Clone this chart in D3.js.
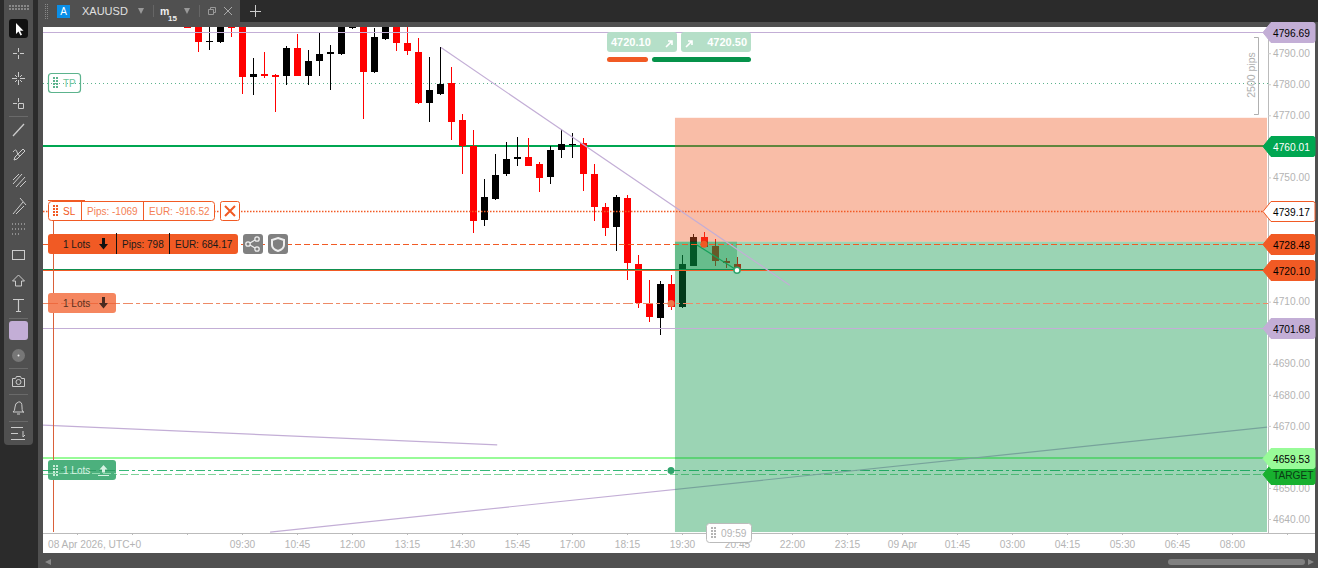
<!DOCTYPE html>
<html>
<head>
<meta charset="UTF-8">
<title>XAUUSD m15</title>
<script src="https://cdn.jsdelivr.net/npm/d3@7"></script>
<style>
  body { margin: 0; background: #2b2b2b; overflow: hidden; }
  text { font-family: "Liberation Sans", Arial, sans-serif; }
</style>
</head>
<body>
<script>
// candles, first one is bar index -5 (08:15), 15 min each
var firstBar = -5;
var opens  = [4798.6,4805,4793.5,4793.7,4798.5,4803,4782.2,4783.4,4782.9,4782.5,4791.8,4782.5,4787.4,4789.9,4789.8,4798.2,4803,4784.1,4794.7,4803,4793.4,4790.5,4774.1,4777.0,4780.5,4768.6,4760.0,4736.4,4743.1,4751.0,4755.8,4756.6,4754.4,4750.0,4758.7,4760.3,4761.2,4751.2,4740.5,4733.9,4743.4,4722.2,4709.6,4704.8,4715.7,4708.4,4721.5,4730.9,4728.0,4723.1,4722.2];
var highs  = [4800,4806,4803,4804,4802,4804,4788.5,4790.5,4783.4,4792.4,4796.3,4791.1,4796.6,4792.7,4804,4803,4804,4798.2,4804,4804,4798.5,4795.0,4788.9,4792.1,4785.6,4770.5,4765.3,4749.6,4757.6,4761.5,4763.1,4762.8,4755.0,4760.0,4765.7,4764.4,4762.8,4754.4,4741.8,4744.4,4744.4,4725.1,4717.0,4716.7,4718.6,4725.1,4731.8,4732.5,4730.2,4724.1,4724.4];
var lows   = [4798.0,4790.3,4790.9,4793.2,4795.1,4777.0,4776.7,4781.9,4771.2,4779.9,4782.5,4779.9,4782.8,4778.3,4789.3,4797.9,4768.7,4783.5,4794.4,4790.8,4789.3,4773.8,4767.7,4776.7,4761.9,4751.0,4732.2,4734.2,4742.8,4750.3,4753.8,4753.8,4745.4,4748.0,4756.4,4756.1,4745.5,4736.1,4731.2,4726.4,4717.1,4708.1,4703.6,4699.1,4707.3,4708.1,4721.5,4727.6,4721.5,4720.9,4720.5];
var closes = [4798.2,4793.5,4794.0,4803,4798.2,4782.2,4783.4,4782.8,4782.5,4791.8,4782.5,4787.6,4789.8,4790.5,4803,4798.5,4784.1,4795.3,4803,4793.2,4790.6,4774.1,4778.2,4780.2,4767.7,4760.0,4736.1,4743.8,4750.8,4756.0,4756.6,4753.8,4749.7,4758.9,4760.8,4760.8,4751.0,4740.6,4733.8,4743.8,4722.3,4709.6,4705.1,4715.7,4708.4,4722.2,4730.9,4727.6,4723.1,4722.5,4720.5];

var priceTicks = [4640,4650,4670,4680,4690,4710,4750,4770,4780,4790];
var timeTickBars = [-15,-10,-5,0,5,10,15,20,25,30,35,40,45,50,55,60,65,70,75,80,85,90,95];
var timeTickLabels = ["","","","09:30","10:45","12:00","13:15","14:30","15:45","17:00","18:15","19:30","20:45","22:00","23:15","09 Apr","01:45","03:00","04:15","05:30","06:45","08:00",""];

var levelPrices = [4796.69,4780.4,4760.01,4739.17,4728.48,4720.5,4720.10,4709.4,4701.4,4659.53,4655.6,4654.6];
var levelColors = ["#c3aed6","#5cb38d","#00a651","#f15a24","#f15a24","#0f8f4f","#f15a24","#ee8a66","#c3aed6","#98fb98","#35b878","#7fd39a"];
var levelWidths = [1,1,2,1.5,1,1,1.2,1,1,2,1,1];
var levelDashes = [null,"1 3",null,"1.5 1.5","6 3",null,null,"10 3 4 3",null,null,"10 3 3 3","8 3"];
var levelOnTop  = [true,false,false,true,true,true,true,true,true,false,false,false];

var tagPrices = [4796.69,4760.01,4739.17,4728.48,4720.10,4701.4,4654.6,4659.53];
var tagTexts  = ["4796.69","4760.01","4739.17","4728.48","4720.10","4701.68","TARGET","4659.53"];
var tagFills  = ["#c3aed6","#00a651","#ffffff","#f15a24","#f15a24","#c3aed6","#18b02f","#98fb98"];
var tagInks   = ["#000","#fff","#000","#000","#000","#000","#0a3a14","#000"];

// trend lines: bar, price, bar, price
var trendA = [18.09,4791.8,49.8,4715.3];
var trendB = [-18.1,4670.2,23.2,4663.9];
var trendC = [2.55,4635.8,93.2,4669.6];

// position tool
var toolBarStart = 39.36, toolBarNow = 45;
var toolTop = 4769.2, toolEntry = 4729.3, toolBottom = 4635.8, toolNow = 4720.1;

var w = 1318, h = 568;
var left = 43, right = 1268, top_ = 27, bottom = 533;

var x = d3.scaleLinear().domain([0,90]).range([242,1232]);
var y = d3.scaleLinear().domain([4640,4790]).range([519,53.2]);

var svg = d3.select("body").append("svg").attr("width",w).attr("height",h).style("display","block");

function rect(p,x0,y0,wd,ht,fill,rx){
  return p.append("rect").attr("x",x0).attr("y",y0).attr("width",wd).attr("height",ht).attr("fill",fill).attr("rx",rx||0);
}
function label(p,x0,y0,s,size,fill,anchor){
  return p.append("text").attr("x",x0).attr("y",y0).attr("font-size",size).attr("fill",fill)
    .attr("text-anchor",anchor||"start").text(s);
}
function grip(p,x0,y0,color){
  for (var i=0;i<4;i++) for (var j=0;j<2;j++)
    rect(p,x0+j*3,y0+i*3,2,2,color);
}
function levels(p,onTop){
  var idx = d3.range(levelPrices.length).filter(function(i){return levelOnTop[i]==onTop;});
  p.selectAll("line.l"+onTop).data(idx).enter().append("line").attr("class","l"+onTop)
    .attr("x1",left).attr("x2",right)
    .attr("y1",function(i){return levelY(i);})
    .attr("y2",function(i){return levelY(i);})
    .attr("stroke",function(i){return levelColors[i];})
    .attr("stroke-width",function(i){return levelWidths[i];})
    .attr("stroke-dasharray",function(i){return levelDashes[i];});
}
function levelY(i){
  var v = Math.round(y(levelPrices[i])-0.1);
  return levelWidths[i]==2 ? v : v+0.5;
}
function trend(p,t){
  p.append("line").attr("x1",x(t[0])).attr("y1",y(t[1])).attr("x2",x(t[2])).attr("y2",y(t[3]))
    .attr("stroke","#c3aed6").attr("stroke-width",1.2);
}

// frame
rect(svg,0,0,w,h,"#2b2b2b");
rect(svg,38,0,w-38,h,"#505050");
rect(svg,240,0,w-240,22,"#2b2b2b");
rect(svg,left,27,1315-left,526,"#ffffff");

var clip = svg.append("clipPath").attr("id","plot");
clip.append("rect").attr("x",left).attr("y",top_).attr("width",right-left).attr("height",bottom-top_);
var plot = svg.append("g").attr("clip-path","url(#plot)");

// under the position tool
levels(plot,false);
trend(plot,trendB);
trend(plot,trendC);

// candles
var candles = plot.selectAll("g.candle").data(opens).enter().append("g").attr("class","candle")
  .attr("shape-rendering","crispEdges");
function cx(i){ return Math.round(x(firstBar+i)); }
function col(i){ return closes[i] < opens[i] ? "#ff0000" : "#000000"; }
candles.append("rect")
  .attr("x",function(d,i){return cx(i);}).attr("width",1)
  .attr("y",function(d,i){return y(highs[i]);})
  .attr("height",function(d,i){return y(lows[i])-y(highs[i]);})
  .attr("fill",function(d,i){return col(i);});
candles.append("rect")
  .attr("x",function(d,i){return cx(i)-3;}).attr("width",7)
  .attr("y",function(d,i){return y(Math.max(opens[i],closes[i]));})
  .attr("height",function(d,i){return Math.max(1.5,Math.abs(y(opens[i])-y(closes[i])));})
  .attr("fill",function(d,i){return col(i);});

// position tool over the candles
var x0 = x(toolBarStart);
rect(plot,x0,y(toolTop),1267-x0,y(toolEntry)-y(toolTop),"rgba(240,90,35,.4)");
rect(plot,x0,y(toolEntry),1267-x0,y(toolBottom)-y(toolEntry),"rgba(5,147,67,.4)");
rect(plot,x0,y(toolEntry),x(toolBarNow)-x0,y(toolNow)-y(toolEntry),"rgba(5,147,67,.35)");
plot.append("line").attr("x1",697).attr("y1",245).attr("x2",x(toolBarNow)).attr("y2",y(toolNow))
  .attr("stroke","#16a05a").attr("stroke-width",1.2);

// above the position tool
levels(plot,true);
trend(plot,trendA);

// order dots
plot.append("circle").attr("cx",x(42)).attr("cy",y(4728.48)).attr("r",3.5).attr("fill","#f15a24");
plot.append("circle").attr("cx",x(39)).attr("cy",y(4709.4)).attr("r",3.5).attr("fill","#f0754a");
plot.append("circle").attr("cx",x(39)).attr("cy",y(4655.6)).attr("r",3.5).attr("fill","#2fa56c");
plot.append("circle").attr("cx",x(45)).attr("cy",y(toolNow)).attr("r",3).attr("fill","#fff")
  .attr("stroke","#2fa56c").attr("stroke-width",1.5);

// stop loss vertical line
svg.append("line").attr("x1",53.5).attr("x2",53.5).attr("y1",200).attr("y2",532).attr("stroke","#d9603a");
svg.append("line").attr("x1",48).attr("x2",85).attr("y1",200.5).attr("y2",200.5).attr("stroke","#f15a24");

// axes
var yAxis = d3.axisRight(y).tickValues(priceTicks).tickSize(3).tickPadding(2)
  .tickFormat(function(d){return d.toFixed(2);});
var gy = svg.append("g").attr("transform","translate("+right+",0)").call(yAxis);
gy.select(".domain").attr("d","M0.5,27V533").attr("stroke","#bbbbbb");
gy.selectAll("line").attr("stroke","#cccccc");
gy.selectAll("text").attr("fill","#b4b4b4").attr("font-size",10.2).attr("font-family","Liberation Sans");

var xAxis = d3.axisBottom(x).tickValues(timeTickBars).tickSize(2).tickPadding(6)
  .tickFormat(function(d,i){return timeTickLabels[i];});
var gx = svg.append("g").attr("transform","translate(0,"+bottom+")").call(xAxis);
gx.select(".domain").attr("d","M"+left+",0.5H1315").attr("stroke","#bbbbbb");
gx.selectAll("line").attr("stroke","#bbbbbb");
gx.selectAll("text").attr("fill","#b4b4b4").attr("font-size",10.2).attr("font-family","Liberation Sans");
label(svg,48,548,"08 Apr 2026, UTC+0",10.2,"#b4b4b4");

// 2500 pips bracket
svg.append("path").attr("d","M1254,37.5H1258.5V114.5H1254").attr("fill","none").attr("stroke","#b0b0b0");
label(svg,0,0,"2500 pips",10.5,"#b0b0b0","middle").attr("transform","translate(1255,75) rotate(-90)");

// price tags
var tags = svg.selectAll("g.tag").data(tagPrices).enter().append("g").attr("class","tag")
  .attr("transform",function(d){return "translate(0,"+Math.round(y(d)-0.1)+")";});
tags.append("path")
  .attr("d","M1263,0.5L1271,-9.5H1313Q1315,-9.5 1315,-7.5V8.5Q1315,10.5 1313,10.5H1271Z")
  .attr("fill",function(d,i){return tagFills[i];})
  .attr("stroke",function(d,i){return tagFills[i]=="#ffffff" ? "#f15a24" : tagFills[i];});
tags.append("text").attr("x",1273).attr("y",4.5).attr("font-size",10.2)
  .attr("fill",function(d,i){return tagInks[i];}).text(function(d,i){return tagTexts[i];});

// left order boxes
var tp = svg.append("g");
rect(tp,48.5,73.5,32,19,"none",3).attr("stroke","#5cb38d").attr("stroke-width",1.2);
grip(tp,53,77,"#5cb38d");
label(tp,63,87,"TP",10,"#6cc497");

var sl = svg.append("g");
rect(sl,48.5,201.5,166,19,"#fff",3).attr("stroke","#f15a24");
rect(sl,81,201,1,19,"#f15a24");
rect(sl,143,201,1,19,"#f15a24");
grip(sl,53,205,"#f15a24");
label(sl,63,215,"SL",10,"#f15a24");
label(sl,87,215,"Pips: -1069",10,"#f47f55");
label(sl,149,215,"EUR: -916.52",10,"#f47f55");
rect(sl,220.5,201.5,19,19,"#fff",2).attr("stroke","#f15a24");
sl.append("path").attr("d","M225,206L235,216M235,206L225,216").attr("stroke","#f15a24").attr("stroke-width",2);

var ord = svg.append("g");
rect(ord,48,234,190,20,"#f15a24",3);
rect(ord,116,233,1,21,"#111");
rect(ord,169,233,1,21,"#111");
label(ord,63,248,"1 Lots",10,"#1a1a1a");
label(ord,122,248,"Pips: 798",10,"#1a1a1a");
label(ord,175,248,"EUR: 684.17",10,"#1a1a1a");
function arrowDown(p,cx0,cy0,color){
  p.append("path").attr("d","M"+(cx0-1.5)+","+(cy0-6)+"h3v6h3l-4.5,5.5l-4.5,-5.5h3z").attr("fill",color);
}
arrowDown(ord,103.5,244,"#111");

rect(svg,243,234,20,20,"#808080",3);
var sh = svg.append("g").attr("fill","none").attr("stroke","#eee").attr("stroke-width",1.3);
sh.append("circle").attr("cx",248).attr("cy",244).attr("r",2.2);
sh.append("circle").attr("cx",257).attr("cy",239).attr("r",2.2);
sh.append("circle").attr("cx",257).attr("cy",249).attr("r",2.2);
sh.append("path").attr("d","M250,243L255,240M250,245L255,248");
rect(svg,268,234,20,20,"#808080",3);
svg.append("path").attr("d","M278,238L284,240V245Q284,249 278,251Q272,249 272,245V240Z")
  .attr("fill","none").attr("stroke","#eee").attr("stroke-width",2);

var pend = svg.append("g");
rect(pend,48,293,68,20,"#f5865f",3);
pend.append("line").attr("x1",48).attr("x2",116).attr("y1",303.5).attr("y2",303.5)
  .attr("stroke","#ee6a3f").attr("stroke-dasharray","10 3 4 3");
label(pend,63,307,"1 Lots",10,"#5a3020");
arrowDown(pend,103.5,303,"#4a2a20");

var buy = svg.append("g");
rect(buy,48,460,68,20,"#4cb07d",3);
buy.append("line").attr("x1",48).attr("x2",116).attr("y1",470.5).attr("y2",470.5)
  .attr("stroke","#2f9d65").attr("stroke-dasharray","10 3 3 3");
buy.append("line").attr("x1",48).attr("x2",116).attr("y1",473.5).attr("y2",473.5)
  .attr("stroke","#8fdcae").attr("stroke-dasharray","8 3");
grip(buy,53,465,"#c9ecd8");
label(buy,63,474,"1 Lots",10,"#d8f2e3");
buy.append("path").attr("d","M103.5,465l4,4.5h-2.5v3h-3v-3h-2.5zM98,475h11v1h-11z").attr("fill","#d8f2e3");

// quote buttons
rect(svg,607,32,70,20,"#b5dfc8",3);
rect(svg,681,32,70,20,"#b5dfc8",3);
label(svg,611,46,"4720.10",11,"#fff").attr("font-weight","bold");
label(svg,747,46,"4720.50",11,"#fff","end").attr("font-weight","bold");
svg.append("path").attr("d","M666,47L672,41M668,41H672V45M686,47L692,41M688,41H692V45")
  .attr("fill","none").attr("stroke","#fff").attr("stroke-width",1.6);
rect(svg,607,57,41,5,"#f15a24",2.5);
rect(svg,652,57,99,5,"#05924a",2.5);

// time box
rect(svg,706.5,523.5,45,19,"#fff",3).attr("stroke","#bbbbbb");
grip(svg,711,527,"#b4b4b4");
label(svg,721,537,"09:59",10.2,"#b4b4b4");

// tab bar
rect(svg,38,0,202,27,"#505050",4);
for (var i=0;i<8;i++){ rect(svg,45,4+i*2,1,1,"#888"); rect(svg,47,4+i*2,1,1,"#888"); }
rect(svg,57,5,13,13,"#0a8fe8");
label(svg,63.5,15,"A",10,"#fff","middle");
label(svg,82,15,"XAUUSD",11,"#e0e0e0");
var tri = "M0,0h6l-3,6z";
[138,184].forEach(function(px){
  svg.append("path").attr("d",tri).attr("transform","translate("+px+",8)").attr("fill","#999");
});
rect(svg,153,5,1,12,"#666");
rect(svg,199,5,1,12,"#666");
label(svg,160,15,"m",10.5,"#eee").attr("font-weight","bold");
label(svg,168,21,"15",8,"#eee").attr("font-weight","bold");
svg.append("path").attr("d","M208.5,9.5h5v5h-5zM210.5,9.5v-2h5v5h-2").attr("fill","none").attr("stroke","#999");
svg.append("path").attr("d","M224,7L232,15M232,7L224,15").attr("stroke","#aaa");
svg.append("path").attr("d","M255.5,5V17M250,11.5H261").attr("stroke","#ccc");

// scroll bar
rect(svg,38,553,w-38,15,"#505050");
rect(svg,1168,559,137,6,"#808080",3);
svg.append("path").attr("d","M45,562l6,-3v6z").attr("fill","#888");
svg.append("path").attr("d","M1314,562l-6,-3v6z").attr("fill","#888");

// toolbar
var tb = svg.append("g");
rect(tb,4,-4,29,449,"#505050",4);
for (var i=0;i<7;i++) for (var j=0;j<2;j++) rect(tb,9+i*3,5+j*3,2,2,"#888");
rect(tb,9,19,19,19,"#111",3);
tb.append("path").attr("d","M16,23v11l2.5,-2.5l2,4l1.5,-.8l-2,-4h3.5z").attr("fill","#fff");
var icons = tb.append("g").attr("fill","none").attr("stroke","#ccc").attr("stroke-width",1);
icons.append("path").attr("d","M13,53.5h4M20,53.5h4M18.5,48v4M18.5,55v4");
icons.append("path").attr("d","M12,78.5h5M20,78.5h5M18.5,72v5M18.5,80v5M15,75l2,2M22,75l-2,2M15,82l2,-2M22,82l-2,-2");
icons.append("path").attr("d","M13,103.5h4M18.5,98v4M18.5,103.5h5v5h-5z");
icons.append("path").attr("d","M13,136L24,124").attr("stroke-width",1.3);
icons.append("path").attr("d","M13,152q3,-4 4,0t3,4M14,160l1,-3l8,-8l2,2l-8,8z");
icons.append("path").attr("d","M13,184L22,174M16,187L25,177M13,180l6,-6M20,187l6,-6");
icons.append("path").attr("d","M13,214L23,202M16,214L24,206M20,198L26,205");
icons.append("path").attr("d","M12,224h14M12,229h14M12,234h8").attr("stroke-dasharray","1 2");
icons.append("rect").attr("x",12.5).attr("y",250.5).attr("width",12).attr("height",9);
icons.append("path").attr("d","M18.5,275l6,6h-3v5h-6v-5h-3z");
icons.append("path").attr("d","M13,299.5h11M18.5,299.5v12M16,311.5h5").attr("stroke-width",1.2);
rect(tb,9,321,19,19,"#c3aed6",3);
tb.append("circle").attr("cx",18.5).attr("cy",355.5).attr("r",6.5).attr("fill","#777");
tb.append("circle").attr("cx",18.5).attr("cy",355.5).attr("r",1).attr("fill","#eee");
icons.append("path").attr("d","M12.5,378.5h3l1,-2h4l1,2h3v8h-12z");
icons.append("circle").attr("cx",18.5).attr("cy",382).attr("r",2.5);
icons.append("path").attr("d","M13,412q2,-1 2,-5t3.5,-5t3.5,5t2,5zM17,414h3");
icons.append("path").attr("d","M11,427.5h12M11,433.5h7M11,439.5h14M23,431v6l2,-2");
[116,318,368,394,421].forEach(function(py){ rect(tb,9,py,19,1,"#6a6a6a"); });
</script>
</body>
</html>
